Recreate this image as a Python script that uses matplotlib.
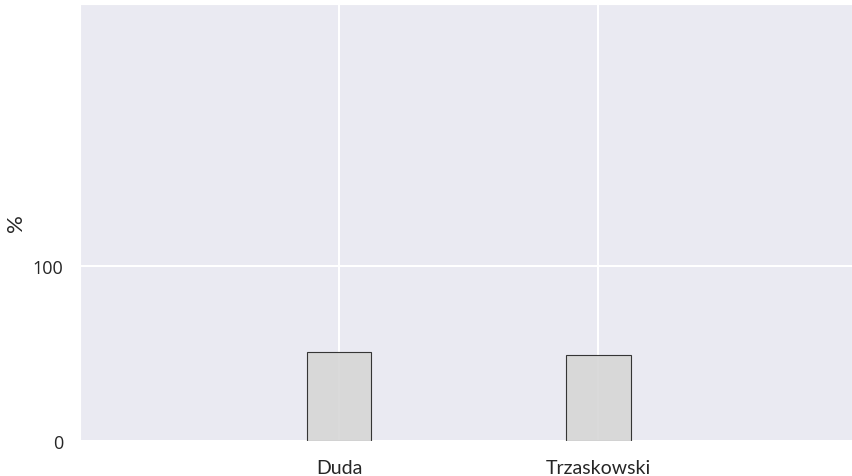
import matplotlib
matplotlib.use("Agg")
import matplotlib.pyplot as plt
import seaborn as sns

candidates = ["Duda", "Trzaskowski"]
votes_pct = [51.03, 48.97]

sns.set_style("darkgrid")
plt.rcParams['font.family'] = ['Lato', 'DejaVu Sans']

fig, ax = plt.subplots(figsize=(8.52, 4.77), dpi=100)
ax.bar(candidates, votes_pct, width=0.25, color='#d6d6d6', alpha=0.9,
       edgecolor='#222222', linewidth=0.8)

ax.set_xlim(-1, 1.98)
ax.set_ylim(0, 250)
ax.set_yticks([0, 100])
ax.set_ylabel('%', fontsize=16)
ax.yaxis.set_label_coords(-0.07, 0.5)
ax.tick_params(axis='both', labelsize=14, length=0)
ax.tick_params(axis='x', pad=13)
ax.tick_params(axis='y', pad=12)
for lbl in ax.get_yticklabels():
    lbl.set_family(['Open Sans', 'DejaVu Sans'])
    lbl.set_fontsize(13)
ax.grid(color='white', linewidth=1.5)

fig.subplots_adjust(left=0.094, right=1.0, top=0.99, bottom=0.073)
fig.savefig("out.png", dpi=100)
